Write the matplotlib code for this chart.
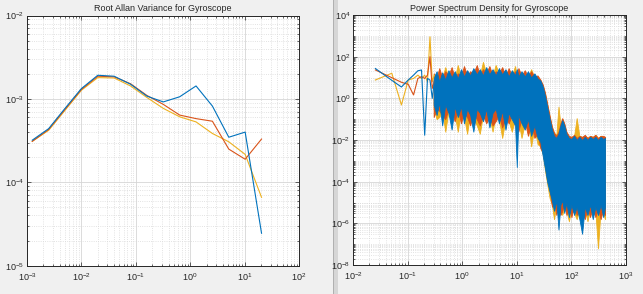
import numpy as np
import matplotlib
matplotlib.use("Agg")
import matplotlib.pyplot as plt
from matplotlib.ticker import FixedLocator, LogFormatterSciNotation, NullFormatter
from matplotlib.patches import Rectangle

plt.rcParams['font.family'] = ['Liberation Sans', 'DejaVu Sans']
plt.rcParams['mathtext.default'] = 'regular'

# ---------------- Root Allan variance data ----------------
tau = [0.00125, 0.0025, 0.005, 0.01, 0.02, 0.04, 0.08, 0.16, 0.32, 0.64, 1.28, 2.56, 5.12, 10.24, 20.48]
adev_x = [3.2e-4, 4.4e-4, 7.7e-4, 1.33e-3, 1.92e-3, 1.87e-3, 1.5e-3, 1.08e-3, 9.2e-4, 1.06e-3, 1.43e-3, 8.2e-4, 3.47e-4, 4.0e-4, 2.45e-5]
adev_y = [3.1e-4, 4.3e-4, 7.5e-4, 1.3e-3, 1.87e-3, 1.84e-3, 1.52e-3, 1.1e-3, 8.6e-4, 6.4e-4, 5.8e-4, 5.4e-4, 2.5e-4, 1.89e-4, 3.3e-4]
adev_z = [3.1e-4, 4.2e-4, 7.3e-4, 1.27e-3, 1.8e-3, 1.78e-3, 1.43e-3, 1.04e-3, 7.7e-4, 6.1e-4, 5.3e-4, 3.85e-4, 3.06e-4, 2.16e-4, 6.6e-5]

# ---------------- PSD data: sparse low-frequency bins ----------------
psd_f_low = [0.0257, 0.0514, 0.0771, 0.1028, 0.1285, 0.1542, 0.1799, 0.2056, 0.2313, 0.257, 0.2827, 0.3084]
psd_x_low = [27, 7.3, 3.5, 7.6, 13, 21, 23, 0.017, 9, 7.6, 1.0, 6.3]
psd_y_low = [23, 9.8, 5.9, 4.7, 1.45, 9, 11, 9, 13, 100, 3, 6.3]
psd_z_low = [7.6, 16, 0.48, 7.6, 9, 13, 9, 13, 6.3, 900, 6.3, 13]

# ---------------- PSD data: dense band envelopes (log10 values) ----------------
psd_f = [0.3, 0.34, 0.38, 0.43, 0.49, 0.56, 0.64, 0.73, 0.83, 0.95, 1.08, 1.23, 1.4, 1.6, 1.85, 2.1,
         2.4, 2.75, 3.15, 3.6, 4.1, 4.7, 5.4, 6.2, 7.1, 8.1, 9.3, 10.0, 10.7, 12.2, 14, 16, 18.3, 21,
         24, 27, 30, 33, 36, 40, 44, 48, 53, 58, 63, 68, 74, 81, 90, 100, 112, 125, 140, 157, 176,
         197, 220, 246, 275, 307, 343, 383, 413]
x_up = [1.0, 1.3, 0.8, 1.25, 0.9, 1.35, 1.0, 1.3, 0.95, 1.4,
        1.05, 1.35, 1.1, 1.45, 1.15, 1.4, 1.1, 1.5, 1.15, 1.4,
        1.1, 1.45, 1.15, 1.4, 1.05, 1.35, 1.1, 1.4, 1.05, 1.3,
        1.05, 1.3, 1.0, 1.2, 0.95, 0.85, 0.55, 0.1, -0.4, -1.0,
        -1.5, -1.8, -1.9, -1.7, -1.3, -1.05, -1.3, -1.7, -1.9, -1.95,
        -1.8, -2.0, -1.85, -2.0, -1.85, -2.0, -1.85, -1.95, -1.85, -2.0,
        -1.85, -1.95, -1.9]
x_lo = [-0.3, -0.8, -0.2, -1.3, -0.3, -0.7, -1.5, -0.4, -0.9, -0.4,
        -1.2, -0.5, -0.8, -1.6, -0.5, -0.7, -1.1, -0.5, -1.4, -0.7,
        -0.5, -1.2, -0.6, -1.5, -0.7, -1.0, -1.3, -3.3, -0.8, -1.2,
        -1.5, -1.0, -1.8, -1.3, -1.9, -2.1, -2.8, -3.4, -4.0, -4.5,
        -4.9, -5.4, -4.9, -6.3, -5.1, -4.9, -5.5, -5.0, -5.7, -5.1,
        -5.6, -5.2, -5.8, -6.5, -5.2, -5.6, -5.1, -5.8, -5.2, -5.6,
        -5.1, -5.7, -5.2]
y_up = [1.2, 1.0, 1.45, 1.0, 1.3, 1.1, 1.5, 1.0, 1.2, 1.1,
        1.55, 1.1, 1.3, 1.2, 1.6, 1.1, 1.4, 1.2, 1.55, 1.1,
        1.3, 1.2, 1.5, 1.1, 1.45, 1.1, 1.3, 1.15, 1.45, 1.1,
        1.35, 1.05, 1.3, 1.05, 1.1, 0.9, 0.65, 0.25, -0.25, -0.85,
        -1.35, -1.65, -1.8, -1.6, -1.2, -0.95, -1.2, -1.6, -1.8, -1.85,
        -1.75, -1.9, -1.8, -1.85, -1.75, -1.9, -1.8, -1.85, -1.75, -1.9,
        -1.8, -1.8, -1.85]
y_lo = [-0.9, -0.5, -0.6, -0.8, -1.0, -0.5, -0.7, -1.1, -0.5, -1.2,
        -0.7, -0.9, -1.3, -0.7, -1.0, -1.3, -0.8, -1.2, -0.9, -1.3,
        -1.1, -0.8, -1.4, -0.9, -1.2, -0.8, -1.0, -1.0, -1.6, -0.9,
        -1.1, -1.8, -1.2, -1.9, -1.7, -2.4, -2.6, -3.2, -3.9, -4.4,
        -5.2, -5.0, -5.6, -5.0, -5.6, -5.4, -5.0, -5.6, -5.2, -5.7,
        -5.1, -5.6, -5.2, -5.4, -5.8, -5.2, -5.7, -5.2, -5.7, -5.3,
        -5.8, -5.3, -5.6]
z_up = [0.9, 1.0, 1.1, 1.0, 1.5, 1.0, 1.2, 1.0, 1.6, 1.0,
        1.2, 1.1, 1.2, 1.1, 1.3, 1.1, 1.75, 1.2, 1.3, 1.1,
        1.6, 1.2, 1.3, 1.1, 1.3, 1.1, 1.55, 1.1, 1.2, 1.1,
        1.2, 1.0, 1.4, 1.0, 1.0, 0.85, 0.6, 0.2, -0.3, -0.9,
        -1.4, -1.65, -1.75, -0.4, -1.25, -1.0, -1.25, -1.65, -1.85, -1.85,
        -1.8, -0.95, -1.8, -1.85, -1.8, -1.9, -1.8, -1.85, -1.75, -1.9,
        -1.8, -1.85, -1.85]
z_lo = [-0.5, -1.0, -0.9, -0.6, -1.6, -0.6, -0.9, -0.8, -1.6, -0.6,
        -0.9, -1.7, -0.7, -1.0, -1.3, -1.7, -0.8, -1.0, -0.9, -1.6,
        -0.8, -1.0, -1.9, -1.0, -1.1, -1.6, -1.0, -1.2, -1.1, -1.9,
        -1.2, -1.1, -2.3, -1.4, -2.2, -2.3, -2.7, -3.5, -4.1, -4.8,
        -5.1, -5.8, -5.1, -5.5, -5.3, -5.6, -5.2, -5.4, -5.9, -5.3,
        -5.5, -5.8, -5.3, -5.6, -5.3, -5.9, -5.3, -5.6, -5.4, -7.2,
        -5.3, -5.5, -5.8]

C_BLUE = '#0072BD'
C_ORANGE = '#D95319'
C_YELLOW = '#EDB120'
AX_COL = '#262626'

W, H = 643, 294
fig = plt.figure(figsize=(W / 100, H / 100), dpi=100, facecolor='#f0f0f0')

# separator between the two figure panes
fig.patches.append(Rectangle((333 / W, 0), 4.5 / W, 1, transform=fig.transFigure,
                             facecolor='#d6d6d6', edgecolor='none', zorder=-2))
fig.patches.append(Rectangle((333 / W, 0), 1.2 / W, 1, transform=fig.transFigure,
                             facecolor='#b0b0b0', edgecolor='none', zorder=-1))


def style(ax, xmin, xmax, ymin, ymax, ymajor_step):
    ax.set_xscale('log')
    ax.set_yscale('log')
    ax.set_xlim(xmin, xmax)
    ax.set_ylim(ymin, ymax)
    ax.set_facecolor('white')
    lx0, lx1 = int(np.log10(xmin)), int(np.log10(xmax))
    ly0, ly1 = int(np.log10(ymin)), int(np.log10(ymax))
    ax.xaxis.set_major_locator(FixedLocator([10.0 ** k for k in range(lx0, lx1 + 1)]))
    ax.xaxis.set_minor_locator(FixedLocator([m * 10.0 ** k for k in range(lx0, lx1) for m in range(2, 10)]))
    ax.yaxis.set_major_locator(FixedLocator([10.0 ** k for k in range(ly0, ly1 + 1, ymajor_step)]))
    yminor = [m * 10.0 ** k for k in range(ly0, ly1) for m in range(1, 10)
              if not (m == 1 and (k - ly0) % ymajor_step == 0)]
    ax.yaxis.set_minor_locator(FixedLocator(yminor))
    ax.xaxis.set_major_formatter(LogFormatterSciNotation())
    ax.yaxis.set_major_formatter(LogFormatterSciNotation())
    ax.xaxis.set_minor_formatter(NullFormatter())
    ax.yaxis.set_minor_formatter(NullFormatter())
    ax.grid(True, which='major', color='#d6d6d6', lw=0.6, ls='-')
    ax.grid(True, which='minor', color='#d9d9d9', lw=0.6, ls=':')
    ax.set_axisbelow(True)
    ax.tick_params(which='both', direction='in', top=True, right=True, colors=AX_COL,
                   labelsize=6.5, width=0.5)
    ax.tick_params(which='major', length=3)
    ax.tick_params(which='minor', length=1.6)
    ax.tick_params(axis='x', pad=4)
    ax.tick_params(axis='y', pad=2)
    for s in ax.spines.values():
        s.set_color(AX_COL)
        s.set_linewidth(0.7)


# ---- Left: Root Allan Variance ----
ax1 = fig.add_axes([27 / W, 1 - 265.7 / H, 272 / W, 250.2 / H])
style(ax1, 1e-3, 1e2, 1e-5, 1e-2, 1)
ax1.plot(tau, adev_z, color=C_YELLOW, lw=0.8)
ax1.plot(tau, adev_y, color=C_ORANGE, lw=0.8)
ax1.plot(tau, adev_x, color=C_BLUE, lw=0.8)
ax1.set_title('Root Allan Variance for Gyroscope', fontsize=6.5, color=AX_COL, pad=3)

# ---- Right: Power Spectrum Density ----
ax2 = fig.add_axes([353 / W, 1 - 265 / H, 273 / W, 250 / H])
style(ax2, 1e-2, 1e3, 1e-8, 1e4, 2)
for up, lo, low_vals, col in [(z_up, z_lo, psd_z_low, C_YELLOW),
                              (y_up, y_lo, psd_y_low, C_ORANGE),
                              (x_up, x_lo, psd_x_low, C_BLUE)]:
    up_v = 10.0 ** np.array(up)
    lo_v = 10.0 ** np.array(lo)
    ax2.fill_between(psd_f, lo_v, up_v, color=col, lw=0.6, edgecolor=col)
    ax2.plot(psd_f_low, low_vals, color=col, lw=0.8)
ax2.set_title('Power Spectrum Density for Gyroscope', fontsize=6.5, color=AX_COL, pad=3)

fig.savefig('out.png', dpi=100, facecolor=fig.get_facecolor())
